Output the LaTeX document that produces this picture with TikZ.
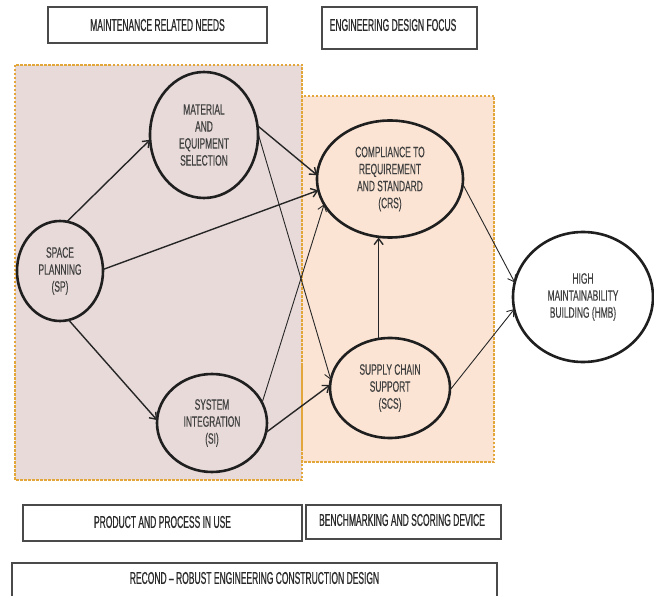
\documentclass[tikz,border=0pt]{standalone}
\usepackage{fontspec}
\newfontfamily\panelfont[FakeStretch=0.5,FakeBold=0.6]{Liberation Sans}
\newfontfamily\bubblefont[FakeStretch=0.56,FakeBold=0.3]{Liberation Sans}
\usetikzlibrary{shapes.geometric,arrows.meta}

\definecolor{zonepink}{HTML}{E9DADA}
\definecolor{zonepeach}{HTML}{FBE4D4}
\definecolor{zoneline}{HTML}{E3A63A}
\definecolor{boxline}{HTML}{4A4A4A}
\definecolor{boxtxt}{HTML}{2A2A2A}
\definecolor{bubtxt}{HTML}{404040}

\tikzset{
  bubble/.style={ellipse, draw=black!88, line width=2.6pt, inner sep=0pt,
    outer sep=0pt, align=center, text=bubtxt,
    font=\bubblefont\fontsize{15}{17}\selectfont},
  panel/.style={rectangle, draw=boxline, line width=1.2pt, fill=white,
    inner sep=0pt},
  paneltext/.style={text=boxtxt, inner sep=0pt,
    font=\panelfont\fontsize{17}{19}\selectfont},
  arr/.style={-{Straight Barb[length=6pt,width=9pt]}, line width=1.4pt,
    draw=black!85},
  thinarr/.style={arr, line width=0.9pt},
  zone/.style={draw=zoneline, line width=1.1pt, dash pattern=on 2.5pt off 1.5pt},
}

\begin{document}
\begin{tikzpicture}[x=1pt,y=-1pt]
\useasboundingbox (0,0) rectangle (654,596);
\clip (0,0) rectangle (654,596);
\fill[white] (0,0) rectangle (654,596);

% shaded zones
\fill[zonepink] (15,65) rectangle (302,480);
\fill[zonepeach] (302,96) rectangle (494,462);
\draw[zone] (15,65) rectangle (302,480);
\draw[zone] (302,96) rectangle (494,462);

% heading and footer panels
\node (mrn) [panel, minimum width=219, minimum height=36] at (157.5,25) {};
\node (mrntxt) [paneltext] at (157.5,25) {MAINTENANCE RELATED NEEDS};
\node (edf) [panel, minimum width=155, minimum height=42] at (399.5,28) {};
\node (edftxt) [paneltext] at (393,25) {ENGINEERING DESIGN FOCUS};
\node (ppu) [panel, minimum width=279, minimum height=36] at (162.5,523) {};
\node (pputxt) [paneltext] at (162.5,522) {PRODUCT AND PROCESS IN USE};
\node (bsd) [panel, minimum width=195, minimum height=34] at (403.5,522) {};
\node (bsdtxt) [paneltext] at (402,520) {BENCHMARKING AND SCORING DEVICE};
\node (rcd) [panel, minimum width=485, minimum height=44] at (254.5,585) {};
\node (rcdtxt) [paneltext] at (254.5,578) {RECOND – ROBUST ENGINEERING CONSTRUCTION DESIGN};

% factors
\node (sp)  [bubble, minimum width=86,  minimum height=100] at (60,271)  {SPACE\\PLANNING\\(SP)};
\node (mes) [bubble, minimum width=108, minimum height=126] at (204,135) {MATERIAL\\AND\\EQUIPMENT\\SELECTION};
\node (si)  [bubble, minimum width=110, minimum height=98]  at (212,423) {SYSTEM\\INTEGRATION\\(SI)};
\node (crs) [bubble, minimum width=146, minimum height=117] at (390,179) {COMPLIANCE TO\\REQUIREMENT\\AND STANDARD\\(CRS)};
\node (scs) [bubble, minimum width=120, minimum height=100] at (390,388) {SUPPLY CHAIN\\SUPPORT\\(SCS)};
\node (hmb) [bubble, minimum width=140, minimum height=130] at (583,297) {HIGH\\MAINTAINABILITY\\BUILDING (HMB)};

% relations
\draw[arr] (sp.82) -- (mes.185);
\draw[arr] (sp.2) -- (crs.189);
\draw[arr] (mes.10) -- (crs.177);
\draw[thinarr] (si.22) -- (crs.201);
\draw[thinarr] (mes.2) -- (scs.172);
\draw[arr] (sp.280) -- (si.177);
\draw[arr] (si.350) -- (scs.177);
\draw[arr] (scs.103) -- (scs.103 |- crs.south);
\draw[thinarr] (crs.356) -- (hmb.168);
\draw[thinarr] (scs.358) -- (hmb.190);
\end{tikzpicture}
\end{document}
